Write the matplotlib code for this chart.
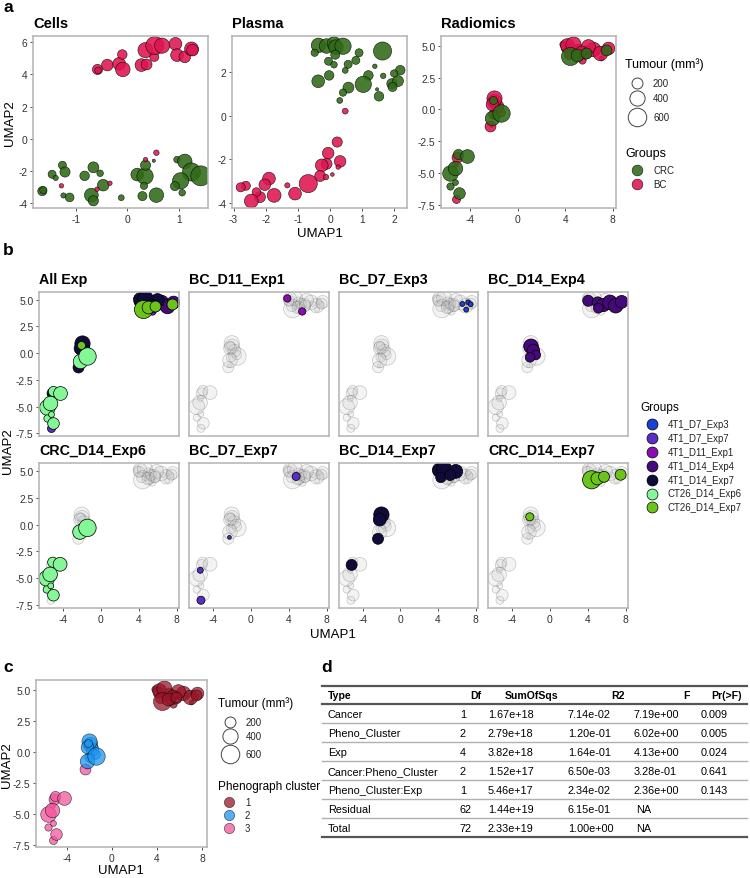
import numpy as np
import matplotlib
matplotlib.use("Agg")
import matplotlib.pyplot as plt
from matplotlib.ticker import FormatStrFormatter

plt.rcParams['font.family'] = ['Liberation Sans', 'DejaVu Sans']
plt.rcParams['axes.unicode_minus'] = False

W, H = 750, 879

# ---- panel a: Cells UMAP ----
cells_x = [-0.58, -0.57, -0.39, -0.16, -0.10, -0.09, 0.27, 0.37, 0.35, 0.52, 0.53, 0.67, 0.93, 0.96, 1.11, 1.24, 1.26,
           0.56, 0.35, -1.28, -0.59, -0.34,
           -1.65, -1.63, -1.46, -1.39, -1.26, -1.21, -1.24, -1.12, -0.83, -0.66, -0.53, -0.47, -0.70, -0.66, -0.12,
           0.19, 0.34, 0.35, 0.32, 0.29, 0.56, 0.51, 0.96, 1.11, 1.24, 1.42, 1.03, 0.92, 1.06]
cells_y = [4.31, 4.25, 4.58, 4.66, 5.24, 4.31, 4.58, 4.62, 5.51, 5.09, 5.79, 5.79, 5.90, 5.20, 5.09, 5.59, 5.51,
           -0.87, -1.30, -2.93, -3.14, -2.77,
           -3.26, -3.20, -2.21, -2.44, -1.65, -2.07, -3.53, -3.65, -2.31, -1.78, -2.15, -2.89, -3.51, -3.86, -3.67,
           -2.23, -2.33, -1.65, -2.93, -3.57, -3.51, -1.37, -1.30, -1.41, -2.07, -2.31, -2.62, -2.95, -3.36]
cells_vol = [172, 64, 228, 276, 150, 364, 276, 200, 400, 135, 575, 400, 276, 276, 228, 327, 228,
             40, 22, 22, 22, 22,
             135, 82, 102, 35, 102, 172, 35, 123, 150, 200, 64, 228, 327, 172, 48,
             276, 464, 172, 82, 135, 364, 5, 64, 364, 575, 700, 464, 135, 64]
cells_cancer = ['BC'] * 22 + ['CRC'] * 29

# ---- panel a: Plasma UMAP ----
plasma_x = [-0.36, -0.48, -0.11, 0.12, 0.18, 0.40, 0.16, -0.05, 0.12, 0.90, 1.63, 0.80, 0.56, 1.39, 1.65,
            0.47, -0.03, -0.37, 1.19, 1.03, 0.57, 0.40, 0.30, 1.52, 1.46, 1.92, 2.11, 2.18, 1.99, 1.94,
            0.47, 0.22, -0.06, -0.11, -0.26, 0.31, 0.25, 0.07, -0.31, -0.13, -0.68, -1.09, -1.33, -1.74,
            -1.90, -2.03, -2.18, -2.29, -2.45, -2.62, -2.78]
plasma_y = [3.23, 2.89, 3.20, 3.31, 3.15, 3.19, 2.80, 2.50, 2.34, 2.89, 2.97, 2.54, 2.36, 2.27, 1.83,
            2.08, 1.85, 1.58, 1.85, 1.44, 1.29, 1.06, 0.70, 0.89, 1.21, 1.47, 1.59, 2.09, 1.94, 1.32,
            0.21, -1.21, -1.72, -2.21, -2.28, -2.10, -2.36, -2.70, -2.77, -2.82, -3.12, -3.58, -3.20, -3.66,
            -2.89, -3.17, -3.74, -3.51, -3.92, -3.22, -3.29]
plasma_vol = [364, 82, 364, 327, 364, 464, 135, 102, 64, 102, 575, 102, 102, 22, 40,
              48, 150, 276, 150, 464, 200, 82, 48, 150, 5, 172, 200, 150, 82, 135,
              48, 172, 228, 200, 276, 228, 22, 11, 200, 40, 575, 276, 35, 327,
              276, 228, 200, 123, 327, 135, 135]
plasma_cancer = ['CRC'] * 30 + ['BC'] * 21

# ---- radiomics UMAP (panels a, b, c) ----
rad_group = (['4T1_D11_Exp1'] * 2 + ['4T1_D7_Exp3'] * 4 + ['4T1_D14_Exp4'] * 11 + ['4T1_D7_Exp7'] * 4 +
             ['4T1_D14_Exp7'] * 9 + ['CT26_D14_Exp6'] * 9 + ['CT26_D14_Exp7'] * 5)
rad_x = [3.86, 5.43,
         6.59, 7.22, 7.47, 7.00,
         4.06, 5.05, 5.64, 6.35, 6.95, 7.58, 5.12, -1.97, -1.72, -1.47, -2.07,
         4.79, -2.24, -5.31, -5.24,
         4.14, 4.66, 4.31, 5.89, 5.30, -2.00, -2.18, -2.36, -5.16,
         -2.18, -1.40, -5.05, -4.28, -5.68, -5.33, -5.68, -4.98, -5.26,
         4.42, 5.02, 5.72, 7.47, -2.10]
rad_y = [5.12, 3.90,
         4.60, 4.75, 4.57, 4.07,
         4.90, 4.75, 4.50, 4.75, 4.44, 4.80, 4.20, 0.64, 0.23, -0.17, -0.39,
         4.47, -1.19, -4.25, -7.03,
         5.06, 5.15, 4.37, 4.94, 4.60, 0.93, 0.46, -1.32, -3.75,
         -0.69, -0.31, -3.50, -3.69, -5.00, -4.63, -6.03, -6.56, -5.69,
         4.16, 4.28, 4.44, 4.63, 0.72]
rad_vol = [82, 82,
           30, 30, 30, 30,
           200, 200, 300, 364, 364, 276, 150, 364, 276, 150, 150,
           102, 11, 48, 102,
           327, 400, 172, 327, 200, 400, 276, 200, 200,
           364, 530, 172, 327, 420, 364, 82, 228, 48,
           575, 276, 200, 200, 102]
rad_cluster = [1, 1,
               1, 1, 1, 1,
               1, 1, 1, 1, 1, 1, 1, 2, 2, 2, 2,
               1, 2, 3, 3,
               1, 1, 1, 1, 1, 2, 2, 3, 3,
               2, 2, 3, 3, 3, 3, 3, 3, 3,
               1, 1, 1, 1, 2]

group_names = ['4T1_D7_Exp3', '4T1_D7_Exp7', '4T1_D11_Exp1', '4T1_D14_Exp4', '4T1_D14_Exp7',
               'CT26_D14_Exp6', 'CT26_D14_Exp7']
group_colors = ['#1c3fd4', '#5a2ec4', '#8a0db4', '#45097a', '#0f0b3b', '#84f797', '#6cc41a']
facet_titles = ['All Exp', 'BC_D11_Exp1', 'BC_D7_Exp3', 'BC_D14_Exp4',
                'CRC_D14_Exp6', 'BC_D7_Exp7', 'BC_D14_Exp7', 'CRC_D14_Exp7']
facet_groups = [None, '4T1_D11_Exp1', '4T1_D7_Exp3', '4T1_D14_Exp4',
                'CT26_D14_Exp6', '4T1_D7_Exp7', '4T1_D14_Exp7', 'CT26_D14_Exp7']

cancer_names = ['CRC', 'BC']
cancer_colors = ['#2f6a17', '#de1450']
cluster_names = [1, 2, 3]
cluster_colors = ['#9a1628', '#1e95f0', '#f2559c']
legend_sizes = [200, 400, 600]

# ---- panel d: PERMANOVA table ----
anova_terms = ['Cancer', 'Pheno_Cluster', 'Exp', 'Cancer:Pheno_Cluster', 'Pheno_Cluster:Exp', 'Residual', 'Total']
anova_df = [1, 2, 4, 2, 1, 62, 72]
anova_ss = [1.67e18, 2.79e18, 3.82e18, 1.52e17, 5.46e17, 1.44e19, 2.33e19]
anova_r2 = [7.14e-02, 1.20e-01, 1.64e-01, 6.50e-03, 2.34e-02, 6.15e-01, 1.00e+00]
anova_f = [7.19e+00, 6.02e+00, 4.13e+00, 3.28e-01, 2.36e+00, None, None]
anova_p = [0.009, 0.005, 0.024, 0.641, 0.143, None, None]


def vsize(v):
    return 4 + 0.29 * np.asarray(v, dtype=float)


fig = plt.figure(figsize=(7.5, 8.79), dpi=100)


def px_axes(l, t, r, b):
    return fig.add_axes([l / W, 1 - b / H, (r - l) / W, (b - t) / H])


def style(ax, xlim, ylim, xt, yt, yfmt=None, showx=True, showy=True):
    ax.set_xlim(xlim)
    ax.set_ylim(ylim)
    for s in ax.spines.values():
        s.set_color('#b3b3b3')
        s.set_linewidth(1.1)
    ax.set_xticks(xt)
    ax.set_yticks(yt)
    if yfmt:
        ax.yaxis.set_major_formatter(FormatStrFormatter(yfmt))
    ax.tick_params(length=2.5, width=0.6, color='#333333', labelsize=7.4, labelcolor='#333333', pad=1.5)
    if not showx:
        ax.tick_params(axis='x', bottom=False, labelbottom=False)
    if not showy:
        ax.tick_params(axis='y', left=False, labelleft=False)


def draw_cancer(ax, xs, ys, vols, cancers):
    xs, ys, vols = np.array(xs), np.array(ys), np.array(vols)
    cancers = np.array(cancers)
    for name, col in zip(cancer_names, cancer_colors):
        m = cancers == name
        ax.scatter(xs[m], ys[m], s=vsize(vols[m]), c=col, edgecolors='black', linewidths=0.4, alpha=0.88)


rx, ry, rv = np.array(rad_x), np.array(rad_y), np.array(rad_vol)
rg = np.array(rad_group)
rcancer = np.where(np.char.startswith(rg, '4T1'), 'BC', 'CRC')

# panel a
ax = px_axes(33, 37, 208, 209)
draw_cancer(ax, cells_x, cells_y, cells_vol, cells_cancer)
style(ax, (-1.83, 1.56), (-4.31, 6.39), [-1, 0, 1], [-4, -2, 0, 2, 4, 6])

ax = px_axes(232, 37, 407, 209)
draw_cancer(ax, plasma_x, plasma_y, plasma_vol, plasma_cancer)
style(ax, (-3.05, 2.39), (-4.24, 3.66), [-3, -2, -1, 0, 1, 2], [-4, -2, 0, 2])

ax = px_axes(441, 37, 616, 209)
for i in range(len(rx)):
    ax.scatter(rx[i], ry[i], s=vsize(rv[i]), c=cancer_colors[cancer_names.index(rcancer[i])],
               edgecolors='black', linewidths=0.4, alpha=0.88)
style(ax, (-6.47, 8.29), (-7.74, 5.76), [-4, 0, 4, 8], [-7.5, -5, -2.5, 0, 2.5, 5], yfmt='%.1f')

# panel b
cols = [(39, 179), (189, 329), (339, 478), (488, 628)]
rows = [(293, 437), (464, 609)]
for k, (title, grp) in enumerate(zip(facet_titles, facet_groups)):
    r, c = divmod(k, 4)
    ax = px_axes(cols[c][0], rows[r][0], cols[c][1], rows[r][1])
    if grp is None:
        for i in range(len(rx)):
            ax.scatter(rx[i], ry[i], s=vsize(rv[i]), c=group_colors[group_names.index(rg[i])],
                       edgecolors='black', linewidths=0.5)
    else:
        ax.scatter(rx, ry, s=vsize(rv), facecolors=(0.75, 0.75, 0.75, 0.18),
                   edgecolors=(0.3, 0.3, 0.3, 0.3), linewidths=0.5)
        m = rg == grp
        ax.scatter(rx[m], ry[m], s=vsize(rv[m]), c=group_colors[group_names.index(grp)],
                   edgecolors='black', linewidths=0.5)
    style(ax, (-6.5, 8.25), (-7.75, 5.72), [-4, 0, 4, 8], [-7.5, -5, -2.5, 0, 2.5, 5], yfmt='%.1f',
          showx=(r == 1), showy=(c == 0))
    fig.text(cols[c][0] / W, 1 - (rows[r][0] - 13) / H, title, fontsize=10.3, fontweight='bold',
             ha='left', va='center')

# panel c
ax = px_axes(36, 681, 207, 848)
for i in range(len(rx)):
    ax.scatter(rx[i], ry[i], s=vsize(rv[i]), c=cluster_colors[rad_cluster[i] - 1],
               edgecolors='black', linewidths=0.4, alpha=0.75)
style(ax, (-6.73, 8.44), (-7.63, 5.83), [-4, 0, 4, 8], [-7.5, -5, -2.5, 0, 2.5, 5], yfmt='%.1f')

# overlay for labels, legends and table
ov = fig.add_axes([0, 0, 1, 1], zorder=10)
ov.set_xlim(0, W)
ov.set_ylim(H, 0)
ov.axis('off')
ov.patch.set_alpha(0)

for lab, (x, y) in zip('abcd', [(3, 8), (3, 251), (3, 668), (321, 668)]):
    ov.text(x, y, lab, fontsize=12.5, fontweight='bold', ha='left', va='center')

for t, x in zip(['Cells', 'Plasma', 'Radiomics'], [33, 232, 441]):
    ov.text(x, 24.5, t, fontsize=10.6, fontweight='bold', ha='left', va='center')

for x, y in [(10, 123), (8, 451), (7, 765)]:
    ov.text(x, y, 'UMAP2', fontsize=9.5, rotation=90, ha='center', va='center')
for x, y in [(320, 234), (333, 635), (121, 871)]:
    ov.text(x, y, 'UMAP1', fontsize=9.5, ha='center', va='center')


def size_legend(x, y0, ys, fs):
    ov.text(x, y0, 'Tumour (mm³)', fontsize=fs, ha='left', va='center')
    for v, yy in zip(legend_sizes, ys):
        ov.scatter(x + 11.5, yy, s=vsize(v), facecolors='white', edgecolors='#444444', linewidths=0.7)
        ov.text(x + 28, yy, str(v), fontsize=6.9, ha='left', va='center', color='#222222')


size_legend(625, 65, [84, 99.3, 118.3], 9)
ov.text(625, 154, 'Groups', fontsize=9, ha='left', va='center')
for name, col, yy in zip(cancer_names, cancer_colors, [170.7, 185]):
    ov.scatter(636.7, yy, s=60, c=col, edgecolors='black', linewidths=0.4, alpha=0.88)
    ov.text(653, yy, name, fontsize=7, ha='left', va='center', color='#222222')

ov.text(640, 408, 'Groups', fontsize=8.5, ha='left', va='center')
for j, (name, col) in enumerate(zip(group_names, group_colors)):
    yy = 425 + 13.9 * j
    ov.scatter(651.7, yy, s=62, c=col, edgecolors='black', linewidths=0.5)
    ov.text(667.5, yy, name, fontsize=6.9, ha='left', va='center', color='#222222')

size_legend(218, 704, [722.7, 736.7, 755], 8.5)
ov.text(218, 787, 'Phenograph cluster', fontsize=8.5, ha='left', va='center')
for j, (name, col) in enumerate(zip(cluster_names, cluster_colors)):
    yy = 802.7 + 13.2 * j
    ov.scatter(229.3, yy, s=55, c=col, edgecolors='black', linewidths=0.4, alpha=0.75)
    ov.text(245, yy, str(name), fontsize=6.9, ha='left', va='center', color='#222222')

# table (panel d)
tx0, tx1 = 322, 747
top, head_bot, row_h = 686.7, 705, 19.05
ov.plot([tx0, tx1], [top, top], color='#555555', lw=1.6)
ov.plot([tx0, tx1], [head_bot, head_bot], color='#555555', lw=1.6)
n = len(anova_terms)
for i in range(1, n):
    yy = head_bot + row_h * i
    ov.plot([tx0, tx1], [yy, yy], color='#b0b0b0', lw=1.0)
ov.plot([tx0, tx1], [head_bot + row_h * n, head_bot + row_h * n], color='#555555', lw=1.6)

hy = (top + head_bot) / 2
ov.text(328, hy, 'Type', fontsize=7.6, fontweight='bold', ha='left', va='center')
for h, x in zip(['Df', 'SumOfSqs', 'R2', 'F', 'Pr(>F)'], [481, 558, 625, 690, 742]):
    ov.text(x, hy, h, fontsize=7.6, fontweight='bold', ha='right', va='center')

for i in range(n):
    yy = head_bot + row_h * (i + 0.5)
    ov.text(328, yy, anova_terms[i], fontsize=7.8, ha='left', va='center')
    ov.text(460, yy, str(anova_df[i]), fontsize=7.8, ha='left', va='center')
    ov.text(488, yy, '{:.2e}'.format(anova_ss[i]), fontsize=7.8, ha='left', va='center')
    ov.text(568, yy, '{:.2e}'.format(anova_r2[i]), fontsize=7.8, ha='left', va='center')
    ftxt = 'NA' if anova_f[i] is None else '{:.2e}'.format(anova_f[i])
    ov.text(634 if anova_f[i] is not None else 636, yy, ftxt, fontsize=7.8, ha='left', va='center')
    if anova_p[i] is not None:
        ov.text(701, yy, '{:.3f}'.format(anova_p[i]), fontsize=7.8, ha='left', va='center')

fig.savefig('out.png', dpi=100)
